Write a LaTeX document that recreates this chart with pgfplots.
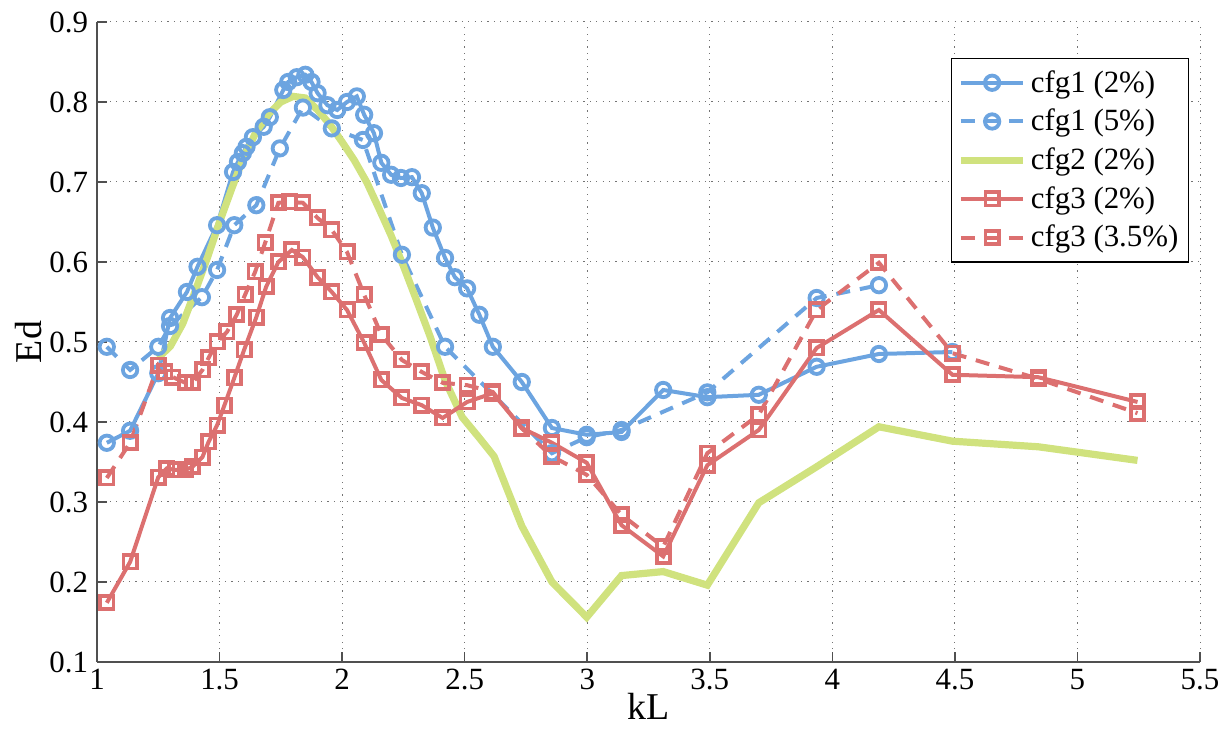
\documentclass[border=0pt]{standalone}
\usepackage{pgfplots}
\pgfplotsset{compat=1.18}
\usepackage{fontspec}
\setmainfont{Liberation Serif}
\definecolor{cblue}{RGB}{108,164,224}
\definecolor{cred}{RGB}{220,112,112}
\definecolor{cgreen}{RGB}{208,226,126}
\definecolor{axgray}{RGB}{80,80,80}
\begin{document}
\begin{tikzpicture}
\begin{axis}[
  name=ax,
  scale only axis,
  width=551.5bp, height=320bp,
  xmin=1, xmax=5.5, ymin=0.1, ymax=0.9,
  xtick={1,1.5,...,5.5}, ytick={0.1,0.2,...,0.9},
  axis x line*=bottom, axis y line*=left,
  axis line style={axgray, line width=1.2bp, -},
  tick style={axgray, line width=0.8bp},
  major tick length=5bp,
  tick align=inside,
  grid=major,
  major grid style={black!55, line width=0.5bp, dash pattern=on 0.6bp off 2.6bp},
  /pgf/number format/assume math mode=true,
  ticklabel style={font=\fontsize{15.5}{17}\selectfont},
  yticklabel style={/pgf/number format/fixed, /pgf/number format/precision=1, /pgf/number format/fixed zerofill, xshift=-1bp},
  xticklabel style={/pgf/number format/fixed},
  xlabel={kL}, ylabel={Ed},
  label style={font=\fontsize{19}{21}\selectfont},
  xlabel style={yshift=5bp},
  ylabel style={yshift=-3bp},
  legend style={at={(rel axis cs:0.990,0.944)}, anchor=north east, draw=black, line width=0.6bp,
    font=\fontsize{15.5}{17}\selectfont, row sep=3bp, inner xsep=3bp, inner ysep=4bp},
  legend cell align=left,
  legend image code/.code={\draw[mark repeat=2,mark phase=2] plot coordinates {(0cm,0cm) (0.55cm,0cm) (1.1cm,0cm)};},
]
% cfg1 (2%)
\addplot[cblue, line width=2bp, mark=o, mark size=3.6bp, mark options={solid, line width=1.9bp}] coordinates {
(1.04,0.374) (1.135,0.389) (1.25,0.461) (1.298,0.530) (1.367,0.5625) (1.41,0.594) (1.49,0.646)
(1.555,0.7125) (1.575,0.725) (1.595,0.736) (1.61,0.744) (1.636,0.756) (1.68,0.769) (1.705,0.781)
(1.76,0.815) (1.78,0.825) (1.815,0.831) (1.85,0.834) (1.875,0.825) (1.90,0.811) (1.94,0.796)
(1.98,0.79) (2.02,0.80) (2.06,0.807) (2.09,0.784) (2.13,0.761) (2.16,0.724) (2.20,0.709)
(2.24,0.705) (2.285,0.706) (2.325,0.686) (2.37,0.643) (2.42,0.605) (2.46,0.581) (2.51,0.567)
(2.56,0.534) (2.615,0.494) (2.733,0.45) (2.856,0.3925) (2.998,0.384) (3.14,0.3875) (3.31,0.44)
(3.49,0.431) (3.70,0.434) (3.936,0.469) (4.19,0.485) (4.49,0.4875)};
\addlegendentry{cfg1 (2\%)}
% cfg1 (5%)
\addplot[cblue, line width=2bp, dash pattern=on 7bp off 5bp, mark=o, mark size=3.6bp, mark options={solid, line width=1.9bp}] coordinates {
(1.04,0.494) (1.135,0.465) (1.25,0.494) (1.298,0.520) (1.428,0.556) (1.49,0.59) (1.56,0.646)
(1.65,0.671) (1.746,0.742) (1.84,0.793) (1.958,0.767) (2.085,0.7525) (2.244,0.609) (2.42,0.494)
(2.856,0.361) (2.998,0.381) (3.14,0.39) (3.49,0.437) (3.936,0.555) (4.19,0.571)};
\addlegendentry{cfg1 (5\%)}
% cfg2 (2%)
\addplot[cgreen, line width=3.6bp] coordinates {
(1.25,0.48) (1.30,0.495) (1.35,0.523) (1.40,0.563) (1.45,0.605) (1.50,0.65) (1.55,0.692)
(1.60,0.732) (1.65,0.763) (1.70,0.785) (1.75,0.80) (1.80,0.807) (1.85,0.805) (1.90,0.79)
(1.95,0.772) (2.00,0.75) (2.05,0.727) (2.10,0.70) (2.15,0.667) (2.20,0.633) (2.25,0.595)
(2.30,0.555) (2.36,0.506) (2.42,0.452) (2.49,0.406) (2.56,0.38) (2.62,0.357) (2.733,0.27)
(2.856,0.20) (2.998,0.156) (3.14,0.208) (3.31,0.213) (3.49,0.196) (3.70,0.299) (3.936,0.344)
(4.19,0.394) (4.49,0.376) (4.84,0.369) (5.245,0.352)};
\addlegendentry{cfg2 (2\%)}
% cfg3 (2%)
\addplot[cred, line width=2bp, mark=square, mark size=3.3bp, mark options={solid, line width=1.9bp}] coordinates {
(1.04,0.174) (1.135,0.225) (1.25,0.331) (1.285,0.342) (1.32,0.34) (1.36,0.34) (1.39,0.344)
(1.43,0.356) (1.455,0.375) (1.49,0.396) (1.52,0.421) (1.56,0.455) (1.60,0.49) (1.65,0.531)
(1.69,0.569) (1.74,0.60) (1.795,0.615) (1.84,0.606) (1.90,0.581) (1.958,0.5625) (2.02,0.54)
(2.09,0.499) (2.16,0.4525) (2.244,0.43) (2.325,0.421) (2.41,0.405) (2.51,0.425) (2.615,0.436)
(2.733,0.3925) (2.856,0.374) (2.998,0.349) (3.14,0.271) (3.31,0.232) (3.49,0.346) (3.70,0.39)
(3.936,0.4925) (4.19,0.54) (4.49,0.459) (4.84,0.456) (5.245,0.425)};
\addlegendentry{cfg3 (2\%)}
% cfg3 (3.5%)
\addplot[cred, line width=2bp, dash pattern=on 7bp off 5bp, mark=square, mark size=3.3bp, mark options={solid, line width=1.9bp}] coordinates {
(1.04,0.33) (1.135,0.374) (1.25,0.471) (1.277,0.4625) (1.31,0.456) (1.36,0.449) (1.39,0.449)
(1.43,0.465) (1.455,0.48) (1.49,0.50) (1.53,0.5125) (1.57,0.534) (1.604,0.559) (1.645,0.5875)
(1.686,0.624) (1.74,0.674) (1.787,0.675) (1.84,0.674) (1.90,0.655) (1.958,0.64) (2.02,0.6125)
(2.09,0.559) (2.16,0.509) (2.244,0.4775) (2.325,0.4625) (2.41,0.449) (2.51,0.446) (2.615,0.4375)
(2.733,0.392) (2.856,0.357) (2.998,0.334) (3.14,0.284) (3.31,0.244) (3.49,0.361) (3.70,0.409)
(3.936,0.54) (4.19,0.599) (4.49,0.486) (4.84,0.454) (5.245,0.411)};
\addlegendentry{cfg3 (3.5\%)}
\end{axis}
\pgfresetboundingbox
\path[use as bounding box] ([xshift=-48.5bp,yshift=-41bp]ax.south west) rectangle ([xshift=15bp,yshift=11bp]ax.north east);
\end{tikzpicture}
\end{document}
